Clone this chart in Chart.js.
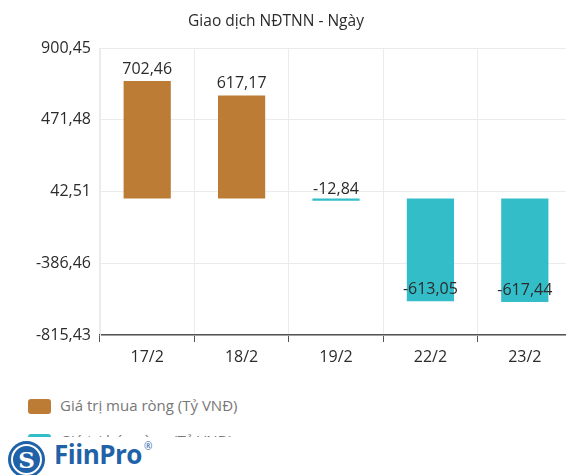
<!DOCTYPE html>
<html>
<head>
<meta charset="utf-8">
<script src="https://cdn.jsdelivr.net/npm/chart.js@4/dist/chart.umd.min.js"></script>
<style>
  html, body { margin: 0; padding: 0; background: #fff; width: 566px; height: 475px; overflow: hidden; font-family: "Open Sans", sans-serif; }
  #title { position: absolute; left: 0; top: 9px; width: 552px; text-align: center; font-size: 15.5px; color: #2b2b2b; }
  #wrap { position: absolute; left: 0; top: 0; width: 566px; height: 375px; overflow: hidden; }
  #inner { position: relative; width: 572px; height: 375px; }
  #legend { position: absolute; left: 0; top: 378px; width: 566px; height: 59px; overflow: hidden; }
  .item { position: absolute; left: 28px; height: 20px; font-size: 15px; color: #777; }
  .box { position: absolute; left: 0; top: 3px; width: 23px; height: 15px; border-radius: 3px; }
  .txt { position: absolute; left: 32px; top: -1px; white-space: nowrap; }
  #logo { position: absolute; left: 0; top: 437px; width: 200px; height: 38px; background: #fff; }
  #circle { position: absolute; left: 8px; top: 4px; width: 37px; height: 37px; border-radius: 50%; background: #1f62a8; }
  #ring { position: absolute; left: 3px; top: 3px; width: 27px; height: 27px; border-radius: 50%; border: 2px solid #fff; color: #fff; font: bold 23px "DejaVu Serif", serif; text-align: center; line-height: 27px; }
  #brand { position: absolute; left: 54px; top: -1px; font: bold 26px "Open Sans", sans-serif; color: #1f62a8; letter-spacing: -0.5px; }
  #brand sup { font-size: 10px; font-weight: normal; vertical-align: 14px; margin-left: 2px; }
</style>
</head>
<body>
<div id="wrap"><div id="inner"><canvas id="myChart"></canvas></div></div>
<div id="title">Giao dịch NĐTNN - Ngày</div>
<div id="legend">
  <div class="item" style="top:18px"><div class="box" style="background:#BC7C36"></div><div class="txt">Giá trị mua ròng (Tỷ VNĐ)</div></div>
  <div class="item" style="top:53px"><div class="box" style="background:#33BDC8"></div><div class="txt">Giá trị bán ròng (Tỷ VNĐ)</div></div>
</div>
<div id="logo"><div id="circle"><div id="ring">S</div></div><div id="brand">FiinPro<sup>®</sup></div></div>
<script>
var xValues = ["17/2", "18/2", "19/2", "22/2", "23/2"];
var buyValues = [702.46, 617.17, null, null, null];
var sellValues = [null, null, -12.84, -613.05, -617.44];
var yTicks = [-815.43, -386.46, 42.51, 471.48, 900.45];
var buyColor = "#BC7C36";
var sellColor = "#33BDC8";

function fmt(v) {
  return v.toFixed(2).replace(".", ",");
}

// value labels drawn over the bars
var barLabels = {
  id: "barLabels",
  afterDatasetsDraw: function(chart) {
    var ctx = chart.ctx;
    ctx.save();
    ctx.font = "16px 'Open Sans'";
    ctx.fillStyle = "#2b2b2b";
    ctx.textAlign = "center";
    ctx.textBaseline = "alphabetic";
    chart.data.datasets.forEach(function(ds, i) {
      chart.getDatasetMeta(i).data.forEach(function(el, j) {
        var v = ds.data[j];
        if (v === null) return;
        ctx.fillText(fmt(v), el.x, el.y - 7);
      });
    });
    ctx.restore();
  }
};

new Chart("myChart", {
  type: "bar",
  data: {
    labels: xValues,
    datasets: [{
      label: "Giá trị mua ròng (Tỷ VNĐ)",
      data: buyValues,
      backgroundColor: buyColor,
      grouped: false,
      barPercentage: 0.5,
      categoryPercentage: 1.0
    }, {
      label: "Giá trị bán ròng (Tỷ VNĐ)",
      data: sellValues,
      backgroundColor: sellColor,
      grouped: false,
      barPercentage: 0.5,
      categoryPercentage: 1.0
    }]
  },
  options: {
    responsive: true,
    maintainAspectRatio: false,
    animation: false,
    layout: { padding: { top: 48, left: 0, right: 0, bottom: 0 } },
    plugins: {
      legend: { display: false },
      title: { display: false },
      tooltip: { enabled: false }
    },
    scales: {
      x: {
        offset: true,
        grid: { color: "#ebebeb", offset: true, drawTicks: true, tickLength: 7, tickColor: "#555" },
        border: { color: "#555", width: 1.5 },
        ticks: { color: "#2b2b2b", font: { family: "Open Sans", size: 16 }, padding: 6 },
        afterFit: function(s) { s.height = 40; }
      },
      y: {
        min: -815.43,
        max: 900.45,
        afterBuildTicks: function(s) {
          s.ticks = yTicks.map(function(v) { return { value: v }; });
        },
        afterFit: function(s) { s.width = 100; },
        grid: { color: "#ebebeb", drawTicks: false },
        border: { color: "#ebebeb" },
        ticks: {
          color: "#2b2b2b",
          padding: 9,
          font: { family: "Open Sans", size: 16 },
          callback: function(v) { return fmt(v); }
        }
      }
    }
  },
  plugins: [barLabels]
});
</script>
</body>
</html>
